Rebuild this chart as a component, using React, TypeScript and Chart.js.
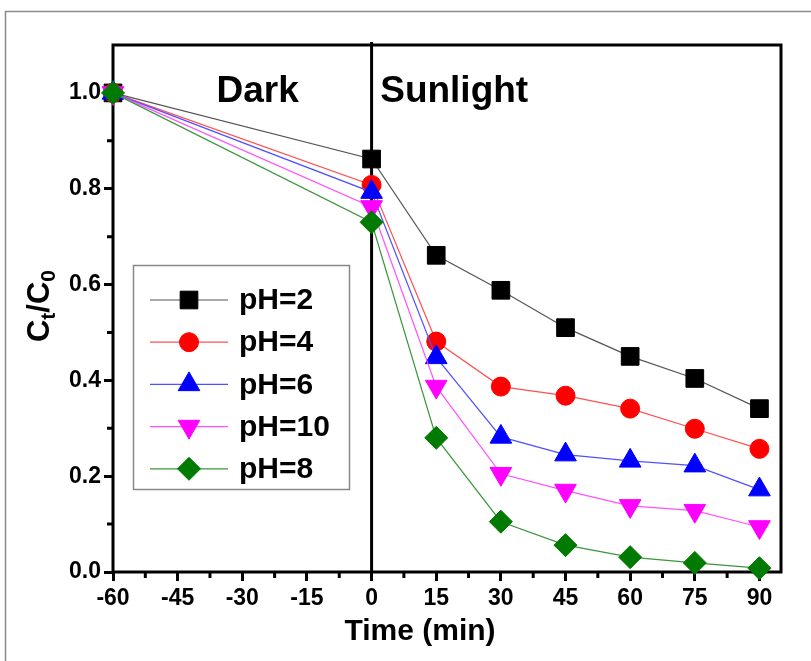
import React, { useEffect, useRef } from 'react';
import { Chart, registerables } from 'chart.js';

Chart.register(...registerables);

// ---- data ----
const times = [-60, 0, 15, 30, 45, 60, 75, 90];
const seriesLabels = ['pH=2', 'pH=4', 'pH=6', 'pH=10', 'pH=8'];
const ph2 = [1.0, 0.862, 0.661, 0.588, 0.51, 0.45, 0.404, 0.341];
const ph4 = [1.0, 0.808, 0.481, 0.387, 0.368, 0.341, 0.299, 0.257];
const ph6 = [1.0, 0.793, 0.448, 0.282, 0.245, 0.232, 0.222, 0.172];
const ph10 = [1.0, 0.762, 0.387, 0.205, 0.17, 0.138, 0.128, 0.094];
const ph8 = [1.0, 0.73, 0.28, 0.105, 0.056, 0.031, 0.019, 0.008];
const xTicks = [-60, -45, -30, -15, 0, 15, 30, 45, 60, 75, 90];
const yTicks = [0, 0.2, 0.4, 0.6, 0.8, 1.0];
const xMinorTicks = [-52.5, -37.5, -22.5, -7.5, 7.5, 22.5, 37.5, 52.5, 67.5, 82.5];
const yMinorTicks = [0.1, 0.3, 0.5, 0.7, 0.9];

const seriesValues = [ph2, ph4, ph6, ph10, ph8];

// ---- styles ----
const FONT = "'Liberation Sans', Arial, Helvetica, sans-serif";
const markerColors = ['#000000', '#ff0000', '#0000ff', '#ff00ff', '#007a00'];
const lineColors = ['#555555', '#ff5050', '#5050ff', '#ff50ff', '#3c963c'];
const pointStyles = ['rect', 'circle', 'triangle', 'triangle', 'rectRot'];
const pointRotations = [0, 0, 0, 180, 0];
const pointRadii = [12.5, 9.5, 12.5, 12.5, 11.5];

function drawMarker(
  ctx: CanvasRenderingContext2D,
  style: string,
  x: number,
  y: number,
  r: number,
  rotationDeg: number,
  color: string
) {
  ctx.save();
  ctx.fillStyle = color;
  ctx.strokeStyle = color;
  ctx.lineWidth = 1;
  ctx.beginPath();
  if (style === 'rect') {
    const s = Math.SQRT1_2 * r;
    ctx.rect(x - s, y - s, 2 * s, 2 * s);
  } else if (style === 'circle') {
    ctx.arc(x, y, r, 0, Math.PI * 2);
  } else if (style === 'triangle') {
    let rad = (rotationDeg * Math.PI) / 180;
    ctx.moveTo(x + Math.sin(rad) * r, y - Math.cos(rad) * r);
    rad += (2 * Math.PI) / 3;
    ctx.lineTo(x + Math.sin(rad) * r, y - Math.cos(rad) * r);
    rad += (2 * Math.PI) / 3;
    ctx.lineTo(x + Math.sin(rad) * r, y - Math.cos(rad) * r);
  } else if (style === 'rectRot') {
    ctx.moveTo(x - r, y);
    ctx.lineTo(x, y - r);
    ctx.lineTo(x + r, y);
    ctx.lineTo(x, y + r);
  }
  ctx.closePath();
  ctx.fill();
  ctx.stroke();
  ctx.restore();
}

const decorPlugin = {
  id: 'decor',
  beforeDraw(chart: any) {
    const ctx = chart.ctx as CanvasRenderingContext2D;
    ctx.save();
    ctx.fillStyle = '#ffffff';
    ctx.fillRect(0, 0, chart.width, chart.height);
    // outer frame (top and left visible)
    ctx.strokeStyle = '#8a8a8a';
    ctx.lineWidth = 1.5;
    ctx.beginPath();
    ctx.moveTo(5.5, chart.height);
    ctx.lineTo(5.5, 11.5);
    ctx.lineTo(chart.width, 11.5);
    ctx.stroke();
    ctx.restore();
  },
  beforeDatasetsDraw(chart: any) {
    const ctx = chart.ctx as CanvasRenderingContext2D;
    const a = chart.chartArea;
    const xs = chart.scales.x;
    const ys = chart.scales.y;
    ctx.save();
    // minor ticks
    ctx.strokeStyle = '#000';
    ctx.lineWidth = 3;
    ctx.beginPath();
    xMinorTicks.forEach((v) => {
      const px = xs.getPixelForValue(v);
      ctx.moveTo(px, a.bottom);
      ctx.lineTo(px, a.bottom + 6);
    });
    yMinorTicks.forEach((v) => {
      const py = ys.getPixelForValue(v);
      ctx.moveTo(a.left, py);
      ctx.lineTo(a.left - 6, py);
    });
    ctx.stroke();
    // vertical divider at t = 0
    const x0 = xs.getPixelForValue(0);
    ctx.beginPath();
    ctx.lineWidth = 3;
    ctx.moveTo(x0, a.top - 3);
    ctx.lineTo(x0, a.bottom);
    ctx.stroke();
    // plot box
    ctx.lineWidth = 3;
    ctx.strokeRect(a.left, a.top, a.right - a.left, a.bottom - a.top);

    // region labels
    ctx.fillStyle = '#000';
    ctx.font = `bold 37px ${FONT}`;
    ctx.textBaseline = 'alphabetic';
    ctx.textAlign = 'left';
    ctx.fillText('Dark', xs.getPixelForValue(-36), ys.getPixelForValue(0.98));
    ctx.fillText('Sunlight', xs.getPixelForValue(2), ys.getPixelForValue(0.98));

    // x title
    ctx.font = `bold 30px ${FONT}`;
    ctx.textAlign = 'center';
    ctx.fillText('Time (min)', 420, 640);

    // y title  C_t / C_0 rotated
    ctx.translate(49, 306);
    ctx.rotate(-Math.PI / 2);
    const big = `bold 31px ${FONT}`;
    const small = `bold 21px ${FONT}`;
    const parts: [string, string, number][] = [
      ['C', big, 0],
      ['t', small, 6],
      ['/', big, 0],
      ['C', big, 0],
      ['0', small, 6],
    ];
    let total = 0;
    parts.forEach(([t, f]) => {
      ctx.font = f;
      total += ctx.measureText(t).width;
    });
    let cx = -total / 2;
    ctx.textAlign = 'left';
    parts.forEach(([t, f, dy]) => {
      ctx.font = f;
      ctx.fillText(t, cx, dy);
      cx += ctx.measureText(t).width;
    });
    ctx.restore();
  },
  afterDatasetsDraw(chart: any) {
    const ctx = chart.ctx as CanvasRenderingContext2D;
    ctx.save();
    // legend box
    ctx.fillStyle = '#ffffff';
    ctx.fillRect(133, 265, 216, 224);
    ctx.strokeStyle = '#888888';
    ctx.lineWidth = 1.5;
    ctx.strokeRect(133.5, 265.5, 216, 224);
    const rowY0 = 300;
    const rowGap = 42.2;
    chart.data.datasets.forEach((ds: any, i: number) => {
      const y = rowY0 + i * rowGap;
      ctx.strokeStyle = lineColors[i];
      ctx.lineWidth = 1.2;
      ctx.beginPath();
      ctx.moveTo(150, y);
      ctx.lineTo(228, y);
      ctx.stroke();
      drawMarker(ctx, pointStyles[i], 189, y, pointRadii[i], pointRotations[i], markerColors[i]);
      ctx.fillStyle = '#000';
      ctx.font = `bold 30px ${FONT}`;
      ctx.textAlign = 'left';
      ctx.textBaseline = 'middle';
      ctx.fillText(ds.label, 239, y + 1);
    });
    ctx.restore();
  },
};

export default function App() {
  const ref = useRef<HTMLCanvasElement | null>(null);

  useEffect(() => {
    if (!ref.current) return;
    const datasets = seriesValues.map((vals, i) => ({
      label: seriesLabels[i],
      data: vals.map((v, j) => ({ x: times[j], y: v })),
      borderColor: lineColors[i],
      backgroundColor: markerColors[i],
      borderWidth: 1.2,
      pointStyle: pointStyles[i],
      pointRotation: pointRotations[i],
      pointRadius: pointRadii[i],
      pointHoverRadius: pointRadii[i],
      pointBackgroundColor: markerColors[i],
      pointBorderColor: markerColors[i],
      pointBorderWidth: 1,
      tension: 0,
      clip: false as any,
      order: seriesValues.length - i,
    }));

    const chart = new Chart(ref.current, {
      type: 'scatter',
      data: { datasets: datasets as any },
      plugins: [decorPlugin],
      options: {
        responsive: false,
        animation: false,
        showLine: true,
        layout: { padding: { left: 0, right: 30, top: 45, bottom: 0 } },
        plugins: {
          legend: { display: false },
          tooltip: { enabled: false },
          title: { display: false },
        },
        scales: {
          x: {
            type: 'linear',
            min: -60,
            max: 95,
            afterBuildTicks: (scale: any) => {
              scale.ticks = xTicks.map((v) => ({ value: v }));
            },
            afterFit: (scale: any) => {
              scale.height = 89;
            },
            grid: {
              display: true,
              drawOnChartArea: false,
              drawTicks: true,
              tickLength: 9,
              tickWidth: 3,
              tickColor: '#000',
            },
            border: { display: false },
            ticks: {
              color: '#000',
              padding: 4,
              maxRotation: 0,
              autoSkip: false,
              font: { family: FONT, size: 23, weight: 'bold' },
              callback: (v: any) => String(v),
            },
          },
          y: {
            type: 'linear',
            min: 0,
            max: 1.1,
            afterBuildTicks: (scale: any) => {
              scale.ticks = yTicks.map((v) => ({ value: v }));
            },
            afterFit: (scale: any) => {
              scale.width = 113;
            },
            grid: {
              display: true,
              drawOnChartArea: false,
              drawTicks: true,
              tickLength: 9,
              tickWidth: 3,
              tickColor: '#000',
            },
            border: { display: false },
            ticks: {
              color: '#000',
              padding: 3,
              autoSkip: false,
              font: { family: FONT, size: 23, weight: 'bold' },
              callback: (v: any) => Number(v).toFixed(1),
            },
          },
        },
      } as any,
    });
    return () => chart.destroy();
  }, []);

  return (
    <div style={{ position: 'absolute', left: 0, top: 0, width: 811, height: 661, background: '#fff' }}>
      <canvas ref={ref} width={811} height={661} style={{ display: 'block', width: 811, height: 661 }} />
    </div>
  );
}
